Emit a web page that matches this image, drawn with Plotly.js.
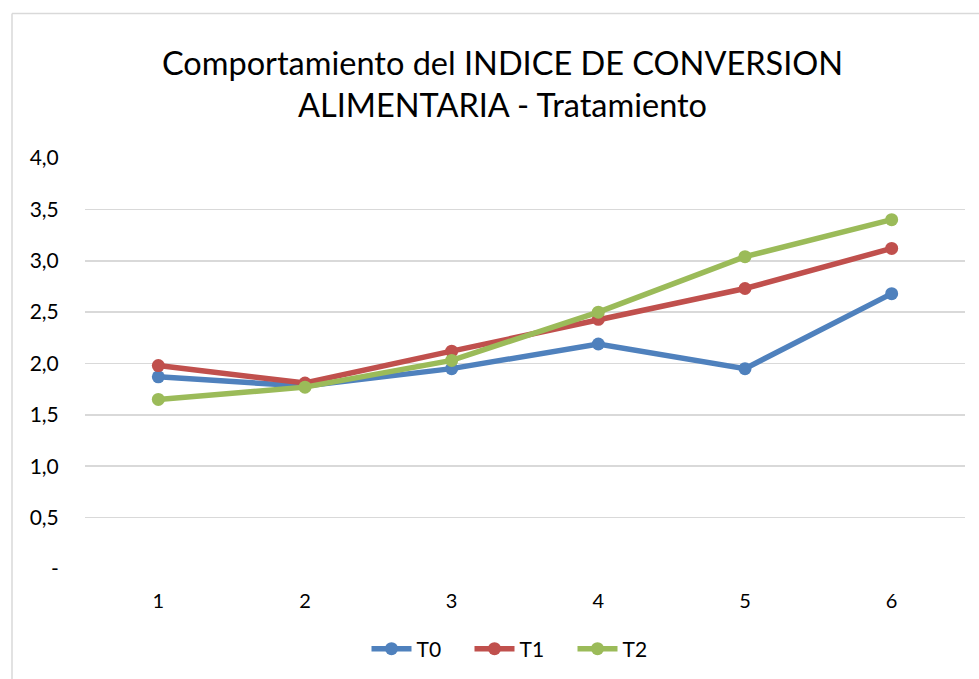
<!DOCTYPE html>
<html>
<head>
<meta charset="utf-8">
<script src="https://cdn.plot.ly/plotly-3.0.1.min.js"></script>
<style>
html,body{margin:0;padding:0;background:#fff;}
#chart{width:979px;height:679px;}
</style>
</head>
<body>
<div id="chart"></div>
<script>
const categories = [1, 2, 3, 4, 5, 6];
const t0 = [1.87, 1.78, 1.95, 2.19, 1.95, 2.68];
const t1 = [1.98, 1.81, 2.12, 2.43, 2.73, 3.12];
const t2 = [1.65, 1.77, 2.03, 2.50, 3.04, 3.40];
const seriesNames = ["T0", "T1", "T2"];
const seriesColors = ["#4f81bd", "#c0504d", "#9bbb59"];
const yTickVals = [0, 0.5, 1, 1.5, 2, 2.5, 3, 3.5, 4];
const yTickText = ["-", "0,5", "1,0", "1,5", "2,0", "2,5", "3,0", "3,5", "4,0"];
const titleText = "Comportamiento del INDICE DE CONVERSION<br>ALIMENTARIA - Tratamiento";

const font = "Lato, 'Open Sans', sans-serif";
const allSeries = [t0, t1, t2];
const traces = allSeries.map((vals, i) => ({
  x: categories,
  y: vals,
  name: seriesNames[i],
  type: "scatter",
  mode: "lines+markers",
  line: {color: seriesColors[i], width: 5.5},
  marker: {color: seriesColors[i], size: 13, symbol: "circle"}
}));

// plot area geometry: left 85, right 965, top 157.7, bottom 569.3
const L = 85, R = 965, T = 157.7, B = 569.3;
const W = R - L, H = B - T;
const px = p => (p - L) / W;
const py = p => (B - p) / H;

const layout = {
  width: 979, height: 679,
  margin: {l: L, r: 979 - R, t: T, b: 679 - B, pad: 0, autoexpand: false},
  paper_bgcolor: "#ffffff",
  plot_bgcolor: "#ffffff",
  font: {family: font, color: "#000000"},
  title: {
    text: titleText,
    font: {family: font, size: 32.5, color: "#000000"},
    x: px(502.5), xref: "paper", xanchor: "center",
    y: 0.89, yref: "container", yanchor: "top"
  },
  showlegend: true,
  legend: {
    orientation: "h",
    xref: "container", yref: "container",
    x: 521 / 979, xanchor: "center",
    y: 1 - 649 / 679, yanchor: "middle",
    font: {family: font, size: 21, color: "#000000"},
    itemwidth: 40,
    entrywidth: 48,
    entrywidthmode: "pixels",
    traceorder: "normal"
  },
  xaxis: {
    range: [0.5, 6.5],
    tickvals: categories,
    ticktext: categories.map(String),
    showgrid: false,
    zeroline: false,
    showline: false,
    ticks: "outside", ticklen: 14, tickcolor: "rgba(0,0,0,0)",
    tickfont: {family: font, size: 20, color: "#000000"},
    fixedrange: true
  },
  yaxis: {
    range: [0, 4],
    tickvals: yTickVals,
    ticktext: yTickText,
    showgrid: true,
    gridcolor: "#d9d9d9",
    gridwidth: 1.6,
    zeroline: false,
    showline: false,
    ticks: "outside", ticklen: 21, tickcolor: "rgba(0,0,0,0)",
    tickfont: {family: font, size: 21, color: "#000000"},
    fixedrange: true
  },
  shapes: [
    {type: "line", xref: "paper", yref: "paper", x0: px(12), x1: px(980), y0: py(13), y1: py(13), line: {color: "#d9d9d9", width: 1.5}},
    {type: "line", xref: "paper", yref: "paper", x0: px(12), x1: px(12), y0: py(13), y1: py(680), line: {color: "#d9d9d9", width: 1.5}}
  ]
};

Plotly.newPlot("chart", traces, layout, {displayModeBar: false, staticPlot: true});
</script>
</body>
</html>
